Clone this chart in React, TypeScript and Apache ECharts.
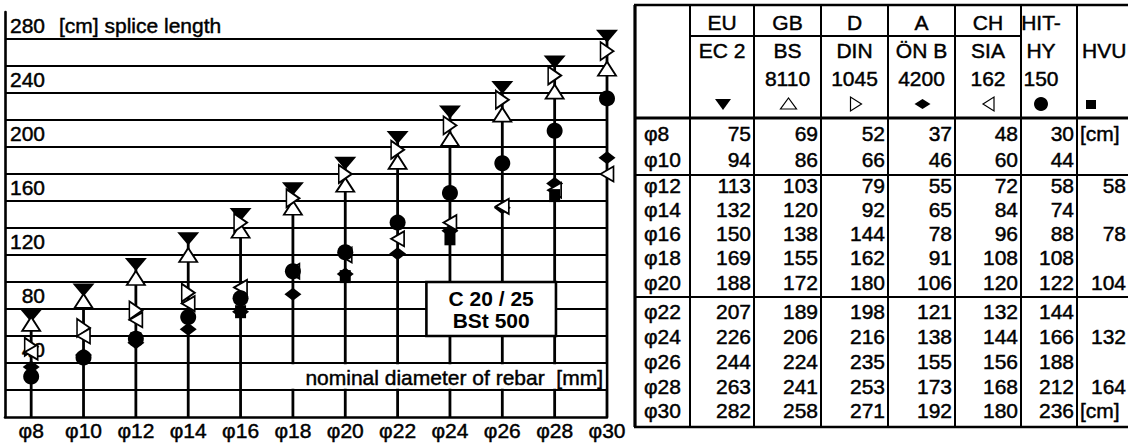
import React, { useEffect, useRef } from "react";
import * as echarts from "echarts";

// ---------- data ----------
const diameters = [8, 10, 12, 14, 16, 18, 20, 22, 24, 26, 28, 30];
const ec2 = [75, 94, 113, 132, 150, 169, 188, 207, 226, 244, 263, 282];
const bs8110 = [69, 86, 103, 120, 138, 155, 172, 189, 206, 224, 241, 258];
const din1045 = [52, 66, 79, 92, 144, 162, 180, 198, 216, 235, 253, 271];
const oenb4200 = [37, 46, 55, 65, 78, 91, 106, 121, 138, 155, 173, 192];
const sia162 = [48, 60, 72, 84, 96, 108, 120, 132, 144, 156, 168, 180];
const hitHy150 = [30, 44, 58, 74, 88, 108, 122, 144, 166, 188, 212, 236];
const hvuDiameters = [12, 16, 20, 24, 28];
const hvuValues = [58, 78, 104, 132, 164];

const gridValues = [20, 40, 60, 80, 100, 120, 140, 160, 180, 200, 220, 240, 260, 280];
const yLabelValues = [40, 80, 120, 160, 200, 240, 280];
const yUnitLabel = "[cm] splice length";
const xAxisTitle = "nominal diameter of rebar  [mm]";
const concreteLabel = ["C 20 / 25", "BSt 500"];

const countries = ["EU", "GB", "D", "A", "CH"];
const codeNames = ["EC 2", "BS", "DIN", "ÖN B", "SIA"];
const codeNumbers = ["", "8110", "1045", "4200", "162"];
const hitHeader = ["HIT-", "HY", "150"];
const hvuHeader = "HVU";
const unitCell = "[cm]";

// ---------- layout / style ----------
const FONT = '"Liberation Sans", Arial, Helvetica, sans-serif';
const FS = 21;
const TB = 0.45; // faux-heavy stroke to mimic the scanned print
const X_MIN = 7;
const X_MAX = 30;
const Y_MAX = 300;

const seriesDefs = [
  { name: "EU EC 2", values: ec2, symbol: "triangle", rotate: 180, size: [22, 13], filled: true, hdr: "down" },
  { name: "GB BS 8110", values: bs8110, symbol: "triangle", rotate: 0, size: [18, 14], filled: false, hdr: "up" },
  { name: "D DIN 1045", values: din1045, symbol: "triangle", rotate: -90, size: [18, 13], filled: false, hdr: "right" },
  { name: "A ÖN B 4200", values: oenb4200, symbol: "diamond", rotate: 0, size: [17, 13], filled: true, hdr: "diamond" },
  { name: "CH SIA 162", values: sia162, symbol: "triangle", rotate: 90, size: [15, 13], filled: false, hdr: "left" },
  { name: "HIT-HY 150", values: hitHy150, symbol: "circle", rotate: 0, size: [16, 16], filled: true, hdr: "circle" },
];

const colX = [635, 690, 754, 821, 888, 955, 1021, 1077];
const TABLE_RIGHT = 1145;
const T_TOP = 5;
const T_HEAD_MID = 36;
const T_HEAD_BOTTOM = 118;
const T_GROUP_LINES = [175, 297];
const T_BOTTOM = 427;
const rowCenters = [133, 159, 185, 209, 233, 257, 282, 311, 336, 361, 386, 410];
const headerRows = [22, 50, 78, 104];

const textStyle = (text: string, align: string, bold = false) => ({
  text,
  fill: "#000",
  fontSize: FS,
  fontFamily: FONT,
  fontWeight: bold ? "bold" : "normal",
  align,
  verticalAlign: "middle",
  stroke: "#000",
  lineWidth: bold ? 0 : TB,
});

function txt(text: string, x: number, y: number, align = "center", bold = false, z = 30) {
  return { type: "text", z, silent: true, x, y, style: textStyle(text, align, bold) };
}

function line(x1: number, y1: number, x2: number, y2: number, w = 2) {
  return {
    type: "line",
    z: 25,
    silent: true,
    shape: { x1, y1, x2, y2 },
    style: { stroke: "#000", lineWidth: w },
  };
}

function headerSymbol(kind: string, cx: number, cy: number) {
  const open = { fill: "#fff", stroke: "#000", lineWidth: 1.2 };
  const solid = { fill: "#000" };
  const poly = (pts: number[][], st: any) => ({ type: "polygon", z: 30, silent: true, shape: { points: pts }, style: st });
  switch (kind) {
    case "down":
      return poly([[cx - 8, cy - 5], [cx + 8, cy - 5], [cx, cy + 6]], solid);
    case "up":
      return poly([[cx - 8, cy + 5], [cx + 8, cy + 5], [cx, cy - 6]], open);
    case "right":
      return poly([[cx - 5, cy - 7], [cx - 5, cy + 7], [cx + 6, cy]], open);
    case "left":
      return poly([[cx + 5, cy - 7], [cx + 5, cy + 7], [cx - 6, cy]], open);
    case "diamond":
      return poly([[cx - 8, cy], [cx, cy - 5], [cx + 8, cy], [cx, cy + 5]], solid);
    case "circle":
      return { type: "circle", z: 30, silent: true, shape: { cx, cy, r: 7 }, style: solid };
    default:
      return { type: "rect", z: 30, silent: true, shape: { x: cx - 5, y: cy - 4, width: 10, height: 9 }, style: solid };
  }
}

function buildOption(): any {
  const scatter: any[] = seriesDefs.map((d) => ({
    name: d.name,
    type: "scatter",
    z: 5,
    symbol: d.symbol,
    symbolRotate: d.rotate,
    symbolSize: d.size,
    itemStyle: d.filled
      ? { color: "#000", opacity: 1 }
      : { color: "#fff", borderColor: "#000", borderWidth: 1.8, opacity: 1 },
    data: diameters.map((x, i) => [x, d.values[i]]),
  }));
  scatter.push({
    name: "HVU",
    type: "scatter",
    z: 5,
    symbol: "rect",
    symbolSize: [11, 13],
    itemStyle: { color: "#000", opacity: 1 },
    data: hvuDiameters.map((x, i) => [x, hvuValues[i]]),
  });

  return {
    animation: false,
    backgroundColor: "#fff",
    grid: { left: 5, right: 1128 - 607, top: 12, bottom: 27 },
    xAxis: {
      type: "value",
      min: X_MIN,
      max: X_MAX,
      axisLine: { show: true, lineStyle: { color: "#000", width: 2.6 } },
      axisTick: { show: false },
      splitLine: { show: false },
      axisLabel: {
        customValues: diameters,
        formatter: (v: number) => "φ" + v,
        color: "#000",
        fontSize: FS,
        fontFamily: FONT,
        textBorderColor: "#000",
        textBorderWidth: TB,
        margin: 3,
        showMaxLabel: true,
        hideOverlap: false,
      },
    },
    yAxis: {
      type: "value",
      min: 0,
      max: Y_MAX,
      interval: 20,
      axisLine: { show: true, lineStyle: { color: "#000", width: 2.6 } },
      axisTick: { show: false },
      splitLine: { show: false },
      axisLabel: { show: false },
    },
    series: [
      {
        type: "custom",
        name: "grid",
        silent: true,
        z: 1,
        data: gridValues.map((v) => [X_MIN, v]),
        renderItem: (_p: any, api: any) => {
          const v = api.value(1);
          const a = api.coord([X_MIN, v]);
          const b = api.coord([X_MAX, v]);
          return {
            type: "line",
            shape: { x1: a[0], y1: a[1], x2: b[0], y2: b[1] },
            style: { stroke: "#000", lineWidth: 2.2 },
          };
        },
      },
      {
        type: "custom",
        name: "drop",
        silent: true,
        z: 2,
        data: diameters.map((x, i) => [x, ec2[i]]),
        renderItem: (_p: any, api: any) => {
          const x = api.value(0);
          const a = api.coord([x, 0]);
          const b = api.coord([x, api.value(1)]);
          return {
            type: "line",
            shape: { x1: a[0], y1: a[1], x2: b[0], y2: b[1] },
            style: { stroke: "#000", lineWidth: 2.8 },
          };
        },
      },
      {
        type: "custom",
        name: "ylabels",
        silent: true,
        z: 3,
        data: yLabelValues.map((v) => [X_MIN, v]),
        renderItem: (_p: any, api: any) => {
          const v = api.value(1);
          const p = api.coord([X_MIN, v]);
          const children: any[] = [
            { type: "text", x: p[0] + 40, y: p[1] - 14, style: textStyle(String(v), "right") },
          ];
          if (v === yLabelValues[yLabelValues.length - 1]) {
            children.push({ type: "text", x: p[0] + 54, y: p[1] - 14, style: textStyle(yUnitLabel, "left") });
          }
          return { type: "group", children };
        },
      },
      ...scatter,
    ],
  };
}

function buildGraphics(chart: any): any[] {
  const px = (x: number, y: number) => chart.convertToPixel({ gridIndex: 0 }, [x, y]) as number[];
  const g: any[] = [];

  // x-axis title box
  const a = px(16, 40);
  const b = px(30, 20);
  g.push({
    type: "rect",
    z: 20,
    silent: true,
    shape: { x: a[0] + 2.5, y: a[1] + 1.3, width: b[0] - a[0] - 4, height: b[1] - a[1] - 2.6 },
    style: { fill: "#fff" },
  });
  g.push(txt(xAxisTitle, b[0] - 4, (a[1] + b[1]) / 2 + 1, "right"));

  // concrete/steel box
  const c1 = px(23.1, 100);
  const c2 = px(28.05, 60);
  g.push({
    type: "rect",
    z: 20,
    silent: true,
    shape: { x: c1[0], y: c1[1], width: c2[0] - c1[0], height: c2[1] - c1[1] },
    style: { fill: "#fff", stroke: "#000", lineWidth: 2.6 },
  });
  const cx = (c1[0] + c2[0]) / 2;
  const h = c2[1] - c1[1];
  g.push(txt(concreteLabel[0], cx, c1[1] + h * 0.3, "center", true));
  g.push(txt(concreteLabel[1], cx, c1[1] + h * 0.72, "center", true));

  // ---------- table ----------
  g.push(line(colX[0] - 1, T_TOP, TABLE_RIGHT, T_TOP, 2.5));
  g.push(line(colX[1], T_HEAD_MID, colX[6], T_HEAD_MID, 2));
  g.push(line(colX[0] - 1, T_HEAD_BOTTOM, TABLE_RIGHT, T_HEAD_BOTTOM, 3));
  T_GROUP_LINES.forEach((y) => g.push(line(colX[0] - 1, y, TABLE_RIGHT, y, 2.2)));
  g.push(line(colX[0] - 1, T_BOTTOM, TABLE_RIGHT, T_BOTTOM, 2.5));
  colX.forEach((x, i) => g.push(line(x, T_TOP, x, T_BOTTOM, i === 0 ? 3.2 : 2)));

  // header
  for (let j = 0; j < countries.length; j++) {
    const cxh = (colX[j + 1] + colX[j + 2]) / 2;
    g.push(txt(countries[j], cxh, headerRows[0]));
    g.push(txt(codeNames[j], cxh, headerRows[1]));
    if (codeNumbers[j]) g.push(txt(codeNumbers[j], cxh, headerRows[2]));
    g.push(headerSymbol(seriesDefs[j].hdr, cxh + 1, headerRows[3]));
  }
  const hitX = 1041;
  hitHeader.forEach((t, i) => g.push(txt(t, hitX, headerRows[i])));
  g.push(headerSymbol("circle", hitX, headerRows[3]));
  g.push(txt(hvuHeader, 1082, headerRows[1], "left"));
  g.push(headerSymbol("rect", 1091, headerRows[3]));

  // body
  diameters.forEach((d, r) => {
    const y = rowCenters[r];
    g.push(txt("φ" + d, colX[0] + 9, y, "left"));
    seriesDefs.forEach((s, j) => {
      g.push(txt(String(s.values[r]), colX[j + 2] - 3, y, "right"));
    });
    const k = hvuDiameters.indexOf(d);
    if (r === 0 || r === diameters.length - 1) {
      g.push(txt(unitCell, colX[7] + 3, y, "left"));
    } else if (k >= 0) {
      g.push(txt(String(hvuValues[k]), 1126, y, "right"));
    }
  });

  return g;
}

export default function App() {
  const ref = useRef<HTMLDivElement>(null);
  useEffect(() => {
    document.body.style.margin = "0";
    const chart = echarts.init(ref.current!, null, { renderer: "svg" });
    chart.setOption(buildOption());
    chart.setOption({ graphic: { elements: buildGraphics(chart) } });
    return () => chart.dispose();
  }, []);
  return <div ref={ref} style={{ width: 1128, height: 444, background: "#fff", overflow: "hidden" }} />;
}
